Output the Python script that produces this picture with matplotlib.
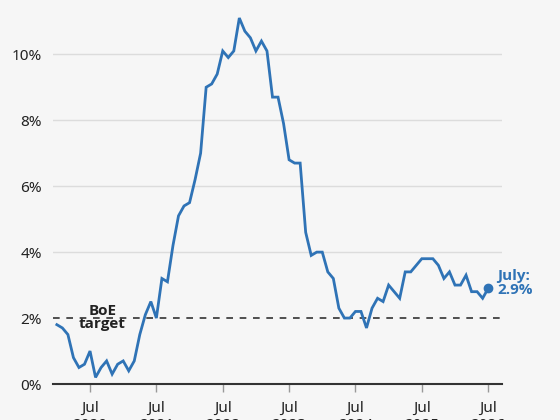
import matplotlib
matplotlib.use("Agg")
import matplotlib.pyplot as plt

# UK CPI inflation, monthly, Jan 2020 - Jul 2026 (%)
cpi_2020 = [1.8, 1.7, 1.5, 0.8, 0.5, 0.6, 1.0, 0.2, 0.5, 0.7, 0.3, 0.6]
cpi_2021 = [0.7, 0.4, 0.7, 1.5, 2.1, 2.5, 2.0, 3.2, 3.1, 4.2, 5.1, 5.4]
cpi_2022 = [5.5, 6.2, 7.0, 9.0, 9.1, 9.4, 10.1, 9.9, 10.1, 11.1, 10.7, 10.5]
cpi_2023 = [10.1, 10.4, 10.1, 8.7, 8.7, 7.9, 6.8, 6.7, 6.7, 4.6, 3.9, 4.0]
cpi_2024 = [4.0, 3.4, 3.2, 2.3, 2.0, 2.0, 2.2, 2.2, 1.7, 2.3, 2.6, 2.5]
cpi_2025 = [3.0, 2.8, 2.6, 3.4, 3.4, 3.6, 3.8, 3.8, 3.8, 3.6, 3.2, 3.4]
cpi_2026 = [3.0, 3.0, 3.3, 2.8, 2.8, 2.6, 2.9]

cpi = cpi_2020 + cpi_2021 + cpi_2022 + cpi_2023 + cpi_2024 + cpi_2025 + cpi_2026
months = list(range(len(cpi)))  # 0 = Jan 2020

tick_years = ["2020", "2021", "2022", "2023", "2024", "2025", "2026"]
tick_months = [6 + 12 * i for i in range(len(tick_years))]
tick_labels = ["Jul\n" + y for y in tick_years]

y_ticks = [0, 2, 4, 6, 8, 10]
boe_target = 2

blue = "#2f73b6"
dark = "#222222"
bg = "#f6f6f6"

plt.rcParams["font.family"] = ["Noto Sans", "DejaVu Sans"]
bold_font = ["Open Sans", "DejaVu Sans"]

fig = plt.figure(figsize=(5.6, 4.2), dpi=100, facecolor=bg)
ax = fig.add_axes([0.0946, 0.0857, 0.8018, 0.895])
ax.set_facecolor(bg)

for y in y_ticks[2:]:
    ax.axhline(y, color="#dcdcdc", lw=1, zorder=1)
ax.axhline(boe_target, color="#333333", lw=1.2, ls=(0, (4, 4)), zorder=2)

ax.plot(months, cpi, color=blue, lw=2, zorder=3, solid_joinstyle="miter")
ax.plot(months[-1], cpi[-1], "o", color=blue, ms=6, zorder=4)

ax.text(8.2, 2.02, "BoE\ntarget", ha="center", va="center", fontsize=11,
        fontweight="bold", family=bold_font, color=dark, linespacing=0.9,
        zorder=5)
ax.text(79.6, 3.07, "July:\n2.9%", ha="left", va="center", fontsize=11,
        fontweight="bold", family=bold_font, color=blue, linespacing=0.95,
        clip_on=False)

ax.set_xlim(-0.7, 80.5)
ax.set_ylim(0, 11.4)
ax.set_yticks(y_ticks)
ax.set_yticklabels([f"{v}%" for v in y_ticks])
ax.set_xticks(tick_months)
ax.set_xticklabels(tick_labels)

for s in ["top", "right", "left"]:
    ax.spines[s].set_visible(False)
ax.spines["bottom"].set_color("#333333")
ax.spines["bottom"].set_linewidth(1.5)
ax.tick_params(axis="y", length=0, pad=8, labelsize=11, labelcolor=dark)
ax.tick_params(axis="x", length=6, width=1, color="#999999", pad=6,
               labelsize=11, labelcolor=dark)

fig.savefig("out.png", dpi=100, facecolor=bg)
